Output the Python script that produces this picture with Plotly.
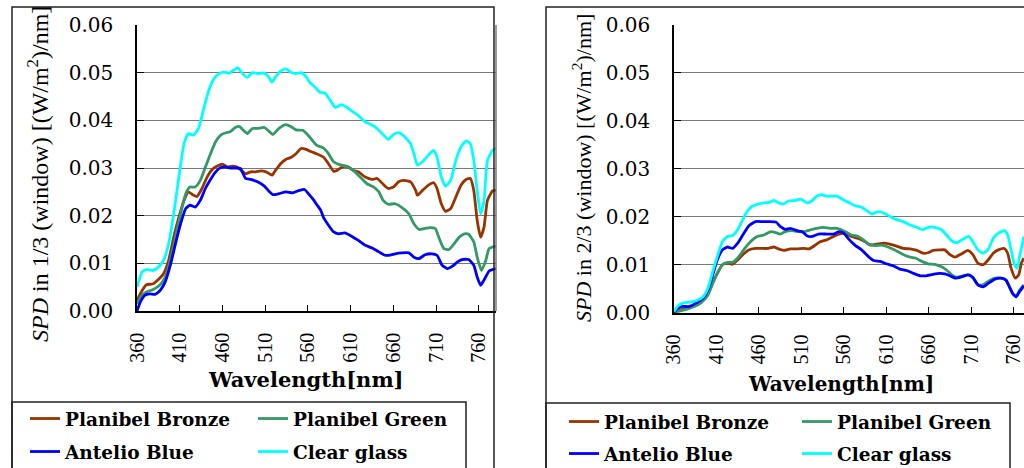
import plotly.graph_objects as go

# ---------------- data ----------------
series_names = ["Planibel Bronze", "Planibel Green", "Antelio Blue", "Clear glass"]
series_colors = ["#993300", "#339966", "#0000FF", "#00FFFF"]
x_tick_vals = [360, 410, 460, 510, 560, 610, 660, 710, 760]
y_tick_vals = [0.00, 0.01, 0.02, 0.03, 0.04, 0.05, 0.06]

# ---- panel 1: SPD in 1/3 (window) ----
l_bronze_wl = [360, 366, 371, 379, 385, 391, 397, 403, 409, 415, 420, 426, 430, 436, 442, 448, 454, 460, 466, 471,
               477, 482, 487, 493, 499, 505, 511, 518, 522, 528, 534, 540, 546, 552, 558, 564, 570, 578, 584, 590,
               594, 601, 607, 613, 619, 627, 635, 641, 648, 654, 660, 666, 672, 680, 686, 688, 694, 701, 707, 711,
               716, 721, 727, 733, 739, 745, 750, 754, 758, 762, 766, 770, 776, 780]
l_bronze = [.0022, .0043, .0055, .0057, .0066, .0078, .0106, .0155, .0197, .0232, .0250, .0243, .0240, .0257, .0281,
            .0297, .0304, .0308, .0302, .0304, .0302, .0295, .0288, .0292, .0292, .0294, .0292, .0285, .0295, .0309,
            .0318, .0322, .0330, .0341, .0339, .0334, .0330, .0323, .0309, .0293, .0295, .0303, .0302, .0295, .0292,
            .0281, .0276, .0278, .0266, .0257, .0260, .0271, .0274, .0271, .0253, .0243, .0253, .0264, .0269, .0257,
            .0225, .0209, .0215, .0239, .0264, .0276, .0278, .0253, .0190, .0155, .0176, .0232, .0252, .0253]

l_green_wl = [360, 366, 371, 379, 387, 393, 399, 405, 411, 417, 422, 428, 434, 440, 446, 452, 458, 464, 469, 475,
              480, 485, 489, 495, 501, 509, 515, 519, 526, 534, 540, 546, 554, 562, 570, 578, 584, 590, 597, 605,
              613, 621, 629, 637, 643, 648, 654, 662, 670, 678, 684, 690, 696, 703, 709, 713, 719, 725, 731, 737,
              743, 748, 754, 758, 763, 768, 772, 780]
l_green = [.0015, .0033, .0040, .0045, .0055, .0071, .0106, .0155, .0204, .0246, .0260, .0260, .0274, .0302, .0330,
           .0355, .0369, .0374, .0376, .0385, .0387, .0378, .0372, .0383, .0383, .0385, .0376, .0370, .0383, .0391,
           .0387, .0380, .0379, .0365, .0348, .0342, .0330, .0313, .0307, .0304, .0295, .0281, .0267, .0260, .0250,
           .0232, .0224, .0225, .0217, .0204, .0183, .0171, .0173, .0175, .0173, .0155, .0131, .0129, .0141, .0155,
           .0162, .0161, .0145, .0113, .0085, .0106, .0131, .0136]

l_blue_wl = [360, 364, 369, 375, 381, 387, 393, 399, 405, 411, 417, 422, 428, 434, 440, 446, 452, 458, 464, 469,
             475, 481, 487, 493, 501, 509, 515, 519, 526, 534, 542, 550, 556, 562, 567, 570, 575, 578, 584, 590,
             596, 603, 611, 619, 627, 635, 643, 650, 656, 662, 670, 678, 684, 690, 697, 705, 711, 717, 723, 729,
             735, 740, 748, 754, 758, 762, 766, 772, 780]
l_blue = [.0000, .0019, .0033, .0036, .0035, .0043, .0061, .0096, .0141, .0183, .0215, .0222, .0218, .0232, .0257,
          .0276, .0292, .0301, .0302, .0300, .0300, .0299, .0278, .0276, .0271, .0262, .0250, .0244, .0246, .0250,
          .0248, .0253, .0255, .0243, .0232, .0224, .0211, .0197, .0180, .0166, .0162, .0164, .0157, .0148, .0138,
          .0132, .0124, .0117, .0117, .0120, .0122, .0122, .0113, .0110, .0118, .0120, .0117, .0096, .0089, .0094,
          .0103, .0108, .0108, .0096, .0071, .0054, .0065, .0084, .0089]

l_clear_wl = [360, 366, 371, 379, 385, 391, 397, 403, 409, 415, 420, 426, 432, 438, 444, 450, 456, 462, 468, 473,
              478, 483, 489, 495, 501, 509, 514, 518, 522, 528, 534, 540, 546, 552, 558, 562, 568, 574, 580, 586,
              592, 599, 605, 611, 619, 627, 633, 639, 647, 654, 660, 666, 674, 680, 684, 688, 694, 701, 707, 711,
              716, 721, 727, 733, 739, 745, 750, 754, 758, 762, 766, 770, 776, 780]
l_clear = [.0050, .0082, .0087, .0085, .0092, .0106, .0141, .0204, .0281, .0351, .0372, .0369, .0383, .0424, .0463,
           .0487, .0498, .0501, .0499, .0505, .0510, .0499, .0490, .0500, .0498, .0499, .0491, .0480, .0491, .0503,
           .0508, .0501, .0498, .0500, .0491, .0480, .0470, .0459, .0457, .0442, .0427, .0433, .0428, .0420, .0410,
           .0397, .0392, .0386, .0372, .0360, .0370, .0374, .0364, .0351, .0330, .0306, .0313, .0327, .0337, .0323,
           .0281, .0262, .0274, .0316, .0344, .0357, .0351, .0316, .0253, .0204, .0232, .0316, .0337, .0341]

# ---- panel 2: SPD in 2/3 (window) ----
r_bronze_wl = [360, 368, 376, 384, 392, 400, 405, 411, 417, 423, 429, 435, 441, 448, 456, 464, 470, 478, 483, 489,
               497, 505, 513, 519, 525, 532, 540, 548, 554, 561, 569, 577, 585, 591, 599, 607, 614, 622, 630, 638,
               646, 653, 659, 665, 673, 679, 685, 691, 699, 706, 712, 718, 724, 730, 736, 742, 749, 753, 757, 762,
               766, 769, 772]
r_bronze = [.0000, .0006, .0010, .0016, .0024, .0040, .0061, .0082, .0100, .0103, .0101, .0110, .0121, .0131, .0134,
            .0134, .0134, .0137, .0133, .0130, .0133, .0133, .0134, .0133, .0139, .0148, .0152, .0159, .0164, .0165,
            .0159, .0155, .0148, .0141, .0143, .0145, .0143, .0139, .0134, .0133, .0130, .0124, .0125, .0130, .0131,
            .0131, .0121, .0116, .0123, .0130, .0121, .0103, .0100, .0110, .0124, .0131, .0134, .0124, .0093, .0072,
            .0079, .0103, .0114]

r_green_wl = [360, 368, 376, 384, 392, 400, 405, 411, 417, 423, 429, 435, 442, 450, 458, 466, 474, 480, 485, 491,
              499, 507, 513, 521, 528, 536, 544, 552, 562, 569, 577, 583, 589, 597, 605, 612, 620, 628, 636, 644,
              652, 659, 667, 675, 681, 687, 693, 700, 708, 712, 718, 724, 730, 738, 745, 751, 755, 759, 763, 767,
              772]
r_green = [.0000, .0004, .0008, .0013, .0021, .0037, .0058, .0082, .0100, .0105, .0105, .0114, .0131, .0148, .0159,
           .0162, .0169, .0167, .0164, .0169, .0171, .0169, .0169, .0173, .0176, .0178, .0176, .0176, .0169, .0162,
           .0159, .0152, .0143, .0140, .0141, .0137, .0131, .0123, .0117, .0114, .0107, .0102, .0101, .0096, .0089,
           .0079, .0074, .0077, .0079, .0072, .0058, .0058, .0065, .0072, .0072, .0068, .0054, .0039, .0035, .0047,
           .0058]

r_blue_wl = [360, 364, 370, 378, 386, 394, 400, 405, 411, 417, 423, 429, 435, 441, 448, 456, 464, 472, 480, 485,
             491, 497, 505, 511, 517, 523, 530, 540, 548, 554, 560, 565, 573, 581, 589, 595, 603, 610, 618, 626,
             634, 642, 650, 657, 665, 673, 679, 685, 691, 699, 706, 712, 718, 724, 730, 738, 745, 751, 755, 759,
             763, 767, 772]
r_blue = [.0000, .0009, .0013, .0013, .0020, .0030, .0047, .0075, .0110, .0131, .0137, .0134, .0145, .0162, .0181,
          .0190, .0190, .0190, .0189, .0180, .0174, .0176, .0171, .0169, .0160, .0159, .0164, .0164, .0164, .0169,
          .0166, .0155, .0141, .0131, .0117, .0109, .0107, .0102, .0098, .0091, .0088, .0082, .0077, .0077, .0080,
          .0082, .0081, .0077, .0072, .0075, .0079, .0074, .0058, .0054, .0061, .0070, .0072, .0068, .0054, .0040,
          .0033, .0044, .0056]

r_clear_wl = [360, 364, 370, 378, 386, 394, 400, 405, 411, 417, 423, 429, 435, 441, 446, 452, 458, 466, 472, 478,
              483, 489, 495, 503, 509, 517, 523, 528, 534, 540, 546, 552, 558, 562, 567, 573, 581, 587, 593, 601,
              607, 614, 622, 630, 638, 646, 653, 659, 667, 675, 681, 687, 693, 700, 707, 712, 718, 724, 730, 736,
              742, 749, 753, 757, 761, 764, 767, 772]
r_clear = [.0002, .0013, .0020, .0022, .0025, .0033, .0051, .0082, .0117, .0148, .0159, .0161, .0173, .0194, .0211,
           .0222, .0226, .0229, .0230, .0234, .0229, .0227, .0233, .0234, .0237, .0229, .0234, .0243, .0246, .0243,
           .0243, .0243, .0237, .0233, .0229, .0223, .0220, .0213, .0206, .0211, .0208, .0201, .0194, .0190, .0183,
           .0178, .0173, .0178, .0178, .0173, .0162, .0150, .0146, .0153, .0159, .0148, .0131, .0124, .0132, .0155,
           .0166, .0171, .0162, .0131, .0100, .0093, .0117, .0159]

left_x = [l_bronze_wl, l_green_wl, l_blue_wl, l_clear_wl]
left_y = [l_bronze, l_green, l_blue, l_clear]
right_x = [r_bronze_wl, r_green_wl, r_blue_wl, r_clear_wl]
right_y = [r_bronze, r_green, r_blue, r_clear]

W, H = 1024, 468


def px(v):
    return v / W


def py(v):
    return 1 - v / H


fig = go.Figure()

# legend text positions (pixel) for each panel: (text_x, row_y)
left_leg_pos = [(65, 419), (293, 419), (65, 452), (293, 452)]
right_leg_pos = [(604, 422), (837, 422), (604, 454), (837, 454)]

for i in range(4):
    fig.add_trace(go.Scatter(x=left_x[i], y=left_y[i], mode="lines", name=series_names[i],
                             line=dict(color=series_colors[i], width=2.8, shape="spline", smoothing=0.5),
                             xaxis="x", yaxis="y", legend="legend" if i == 0 else f"legend{i + 1}"))
for i in range(4):
    fig.add_trace(go.Scatter(x=right_x[i], y=right_y[i], mode="lines", name=series_names[i],
                             line=dict(color=series_colors[i], width=2.8, shape="spline", smoothing=0.5),
                             xaxis="x2", yaxis="y2", legend=f"legend{i + 5}"))

legend_font = dict(family="DejaVu Serif", size=18.5, color="black", weight="bold")
legends = {}
all_pos = left_leg_pos + right_leg_pos
for k, (tx, ty) in enumerate(all_pos):
    key = "legend" if k == 0 else f"legend{k + 1}"
    legends[key] = dict(x=px(tx - 40), y=py(ty), xanchor="left", yanchor="middle",
                        bgcolor="rgba(0,0,0,0)", borderwidth=0, font=legend_font,
                        tracegroupgap=0, itemwidth=30)

axis_common_x = dict(range=[360, 780], tickvals=x_tick_vals, ticks="inside", ticklen=6, tickwidth=1.3,
                     tickcolor="black", showline=True, linecolor="black", linewidth=1.5, showgrid=False,
                     zeroline=False, tickangle=-90, ticklabelstandoff=12, automargin=False,
                     ticklabeloverflow="allow",
                     tickfont=dict(family="Liberation Serif", size=20, color="black"))
axis_common_y = dict(range=[0, 0.06], tickvals=y_tick_vals, tickformat=".2f", ticks="inside", ticklen=7,
                     tickwidth=1.3, tickcolor="black", showline=True, linecolor="black", linewidth=1.5,
                     showgrid=True, gridcolor="#7a7a7a", gridwidth=1.3, zeroline=False, ticklabelstandoff=18,
                     automargin=False, tickfont=dict(family="DejaVu Serif", size=20, color="black"))

xaxis1 = dict(axis_common_x, domain=[px(137), px(496)], anchor="y")
yaxis1 = dict(axis_common_y, domain=[py(311), py(25)], anchor="x")
xaxis2 = dict(axis_common_x, domain=[px(674), 1.0], anchor="y2")
xaxis2["range"] = [360, 772.2]
yaxis2 = dict(axis_common_y, domain=[py(312.7), py(25)], anchor="x2")

frame = dict(color="#222222", width=1.5)
shapes = [
    # panel frames
    dict(type="rect", xref="paper", yref="paper", x0=px(12), x1=px(494), y0=py(7), y1=py(475), line=frame),
    dict(type="rect", xref="paper", yref="paper", x0=px(546), x1=px(1030), y0=py(7), y1=py(475), line=frame),
    # legend boxes
    dict(type="rect", xref="paper", yref="paper", x0=px(12), x1=px(466), y0=py(402), y1=py(475), line=frame),
    dict(type="rect", xref="paper", yref="paper", x0=px(546), x1=px(1010), y0=py(403), y1=py(475), line=frame),
    # right border of the plot areas (gray)
    dict(type="line", xref="x domain", yref="y domain", x0=1, x1=1, y0=0, y1=1,
         line=dict(color="#7a7a7a", width=1.5)),
]

title_font_x = dict(family="DejaVu Serif", size=21, color="black", weight="bold")
annotations = [
    dict(text="Wavelength[nm]", x=px(306), y=py(379), xref="paper", yref="paper", showarrow=False,
         xanchor="center", yanchor="middle", font=title_font_x),
    dict(text="Wavelength[nm]", x=px(841), y=py(384), xref="paper", yref="paper", showarrow=False,
         xanchor="center", yanchor="middle", font=dict(title_font_x, size=20)),
    dict(text="<i>SPD</i> in 1/3 (window) [(W/m<sup>2</sup>)/nm]", x=px(38), y=py(174), xref="paper",
         yref="paper", showarrow=False, textangle=-90, xanchor="center", yanchor="middle",
         font=dict(family="Liberation Serif", size=24, color="black")),
    dict(text="<i>SPD</i> in 2/3 (window) [(W/m<sup>2</sup>)/nm]", x=px(582), y=py(168), xref="paper",
         yref="paper", showarrow=False, textangle=-90, xanchor="center", yanchor="middle",
         font=dict(family="Liberation Serif", size=22, color="black")),
]

fig.update_layout(width=W, height=H, margin=dict(l=0, r=0, t=0, b=0, pad=0, autoexpand=False),
                  paper_bgcolor="white", plot_bgcolor="white", showlegend=True,
                  xaxis=xaxis1, yaxis=yaxis1, xaxis2=xaxis2, yaxis2=yaxis2,
                  shapes=shapes, annotations=annotations, **legends)

fig.write_html("out.html", config={"displayModeBar": False},
               post_script="document.body.style.margin='0px';"
                           "document.body.style.padding='0px';"
                           "document.documentElement.style.overflow='hidden';")
